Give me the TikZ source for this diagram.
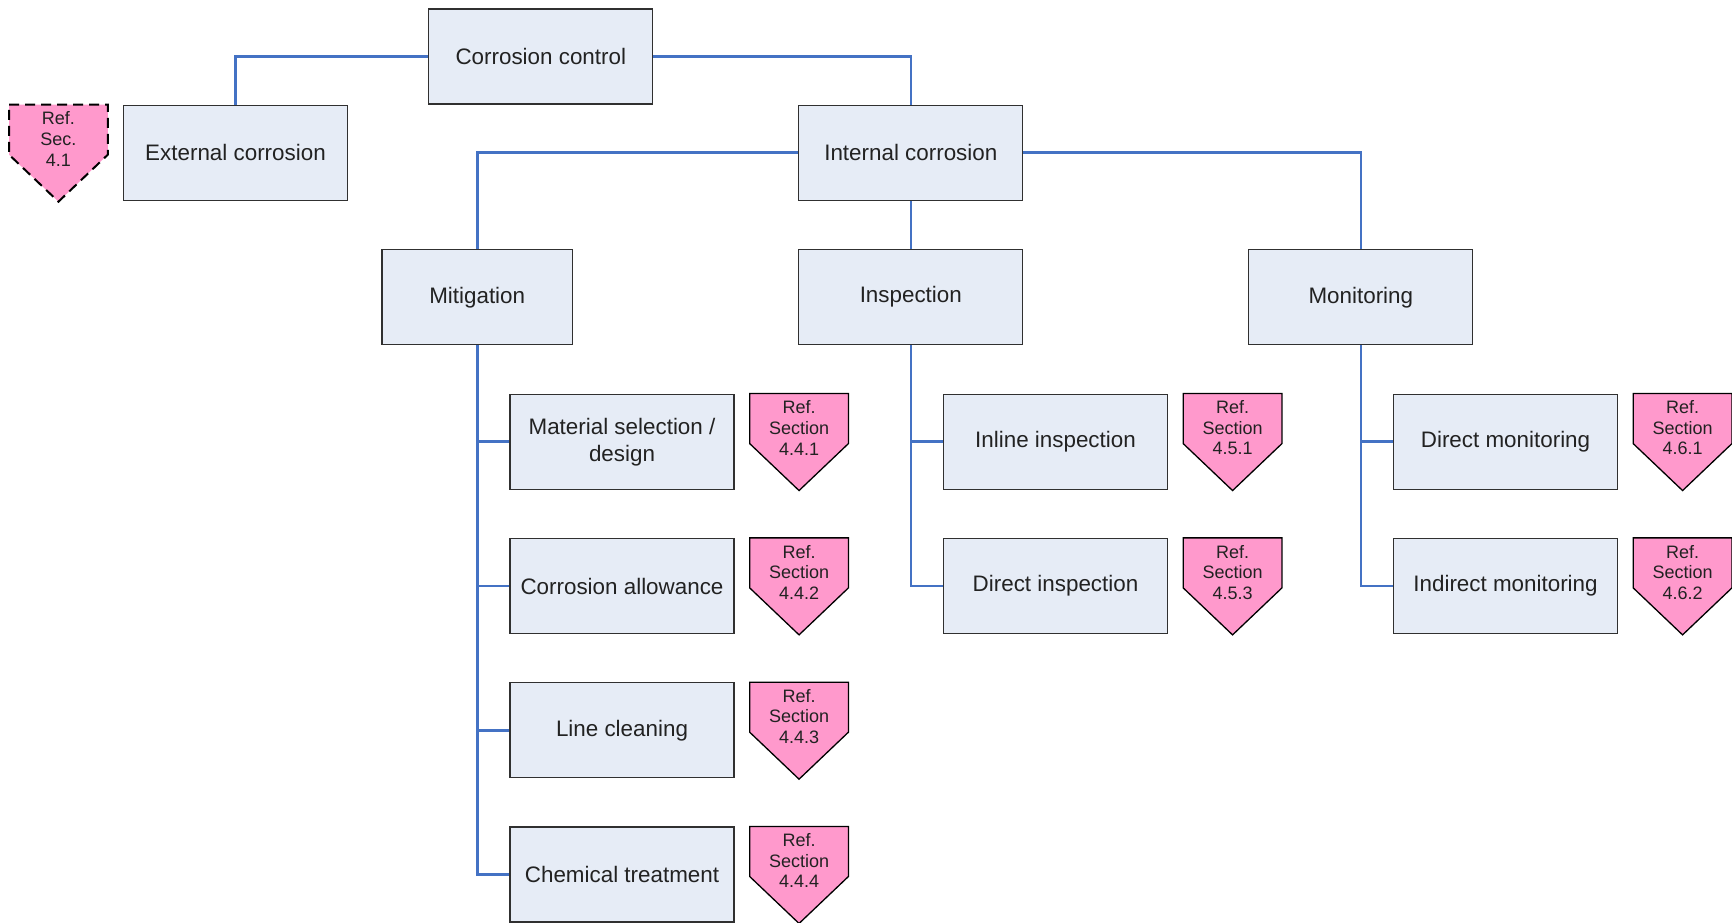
\documentclass[tikz,border=0pt]{standalone}
\usepackage{fontspec}
\setmainfont{Liberation Sans}
\usetikzlibrary{positioning, calc, backgrounds}
\definecolor{boxfill}{HTML}{E6ECF6}
\definecolor{refpink}{HTML}{FF99CC}
\definecolor{linkblue}{HTML}{4472C4}
\definecolor{boxline}{HTML}{303030}
\definecolor{textcol}{HTML}{222222}

\begin{document}
\begin{tikzpicture}[
    x=0.5pt, y=-0.5pt,
    node distance=24pt,
    box/.style={rectangle, draw=boxline, line width=0.65pt, fill=boxfill, text=textcol, minimum width=112pt, minimum height=47.5pt, inner sep=2pt, align=center, font=\fontsize{11.2}{13.5}\selectfont},
    reftext/.style={rectangle, minimum width=49pt, minimum height=34pt, inner sep=0pt, align=center, text=textcol, font=\fontsize{9}{10.3}\selectfont},
    reftag/.style={draw=black, line width=0.65pt, fill=refpink, line join=miter},
    link/.style={draw=linkblue, line width=1.3pt}
]
    \useasboundingbox (0,0) rectangle (1732,922);

    % top levels
    \node[box] (cc) at (540.8,56.5) {Corrosion control};
    \node[box] (ext) at (235.5,152.8) {External corrosion};
    \node[box] (int) at (910.8,152.7) {Internal corrosion};

    \node[box, minimum width=95.35pt] (mit) at (477.2,297.2) {Mitigation};
    \node[box, below=of int] (insp) {Inspection};
    \node[box] (mon) at (1360.8,297.2) {Monitoring};

    % mitigation
    \node[box] (mat) at (622,441.7) {Material selection /\\design};
    \node[box, below=of mat] (allow) {Corrosion allowance};
    \node[box, below=of allow] (clean) {Line cleaning};
    \node[box, below=of clean] (chem) {Chemical treatment};

    % inspection
    \node[box] (inline) at (1055.5,441.7) {Inline inspection};
    \node[box, below=of inline] (dinsp) {Direct inspection};

    % monitoring
    \node[box] (dmon) at (1505.5,441.7) {Direct monitoring};
    \node[box, below=of dmon] (imon) {Indirect monitoring};

    % reference tags
    \node[reftext, left=7.5pt of ext.north west, anchor=north east] (r41) {Ref.\\Sec.\\4.1};
    \node[reftext, right=7.5pt of mat.north east, anchor=north west] (r441) {Ref.\\Section\\4.4.1};
    \node[reftext, right=7.5pt of allow.north east, anchor=north west] (r442) {Ref.\\Section\\4.4.2};
    \node[reftext, right=7.5pt of clean.north east, anchor=north west] (r443) {Ref.\\Section\\4.4.3};
    \node[reftext, right=7.5pt of chem.north east, anchor=north west] (r444) {Ref.\\Section\\4.4.4};
    \node[reftext, right=7.5pt of inline.north east, anchor=north west] (r451) {Ref.\\Section\\4.5.1};
    \node[reftext, right=7.5pt of dinsp.north east, anchor=north west] (r453) {Ref.\\Section\\4.5.3};
    \node[reftext, right=7.5pt of dmon.north east, anchor=north west] (r461) {Ref.\\Section\\4.6.1};
    \node[reftext, right=7.5pt of imon.north east, anchor=north west] (r462) {Ref.\\Section\\4.6.2};

    \begin{scope}[on background layer]
        \foreach \r in {r441,r442,r443,r444,r451,r453,r461,r462}
            \draw[reftag] (\r.north west) -- (\r.north east) -- ($(\r.north east)+(0,50)$) -- ($(\r.north)+(0,97)$) -- ($(\r.north west)+(0,50)$) -- cycle;
        \draw[reftag, line width=1pt, dash pattern=on 5pt off 3pt] (r41.north west) -- (r41.north east) -- ($(r41.north east)+(0,50)$) -- ($(r41.north)+(0,97)$) -- ($(r41.north west)+(0,50)$) -- cycle;
    \end{scope}

    % connectors
    \draw[link] (cc.west) -| (ext.north);
    \draw[link] (cc.east) -| (int.north);
    \draw[link] (int.west) -| (mit.north);
    \draw[link] (int.south) -- (insp.north);
    \draw[link] (int.east) -| (mon.north);

    \draw[link] (mit.south) |- (mat.west);
    \draw[link] (mit.south) |- (allow.west);
    \draw[link] (mit.south) |- (clean.west);
    \draw[link] (mit.south) |- (chem.west);

    \draw[link] (insp.south) |- (inline.west);
    \draw[link] (insp.south) |- (dinsp.west);

    \draw[link] (mon.south) |- (dmon.west);
    \draw[link] (mon.south) |- (imon.west);
\end{tikzpicture}
\end{document}
